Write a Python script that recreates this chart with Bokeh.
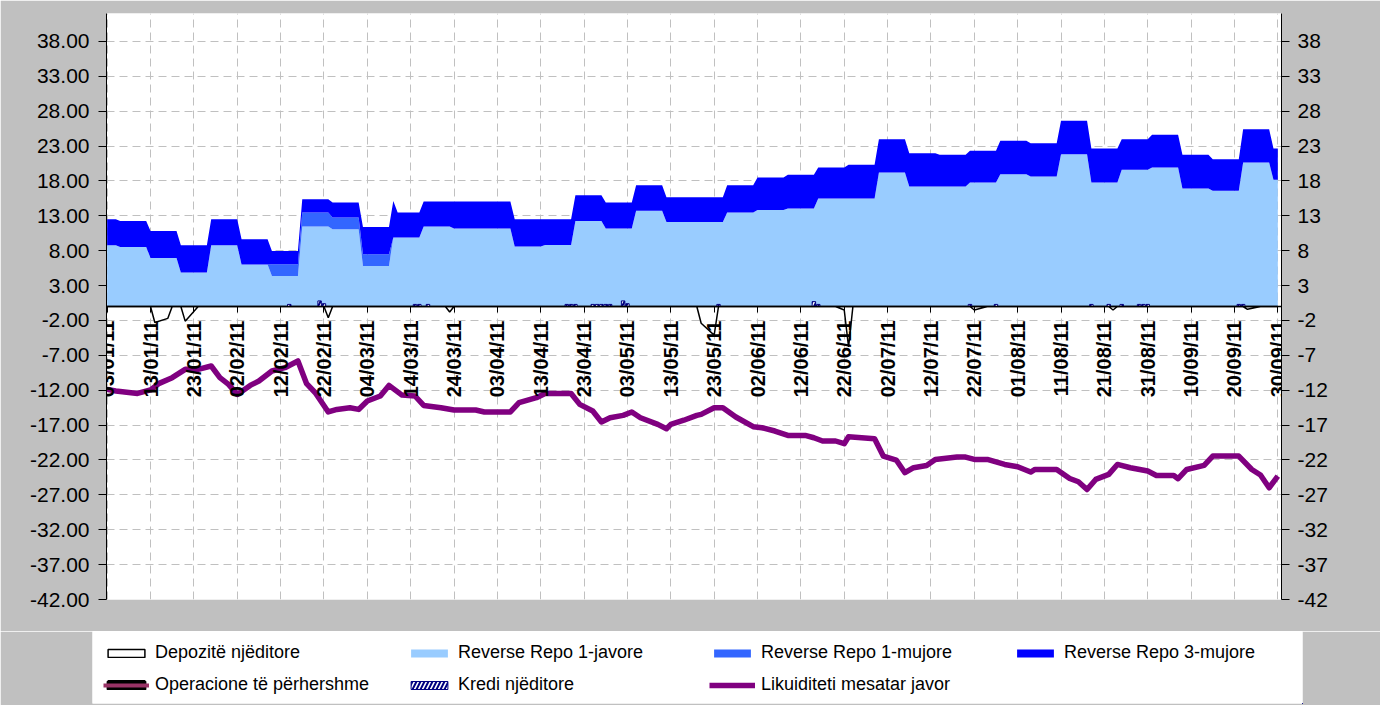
import pandas as pd
from math import pi
from bokeh.plotting import figure
from bokeh.layouts import column, row
from bokeh.models import (ColumnDataSource, FixedTicker, NumeralTickFormatter, LinearAxis,
                          Legend, LegendItem, Range1d)
from bokeh.embed import file_html
from bokeh.resources import INLINE

START = pd.Timestamp("2011-01-03")


def days(dates):
    return [(pd.Timestamp(d) - START).days for d in dates]


# ---------------- data ----------------
x_tick_labels = ["03/01/11", "13/01/11", "23/01/11", "02/02/11", "12/02/11", "22/02/11",
                 "04/03/11", "14/03/11", "24/03/11", "03/04/11", "13/04/11", "23/04/11",
                 "03/05/11", "13/05/11", "23/05/11", "02/06/11", "12/06/11", "22/06/11",
                 "02/07/11", "12/07/11", "22/07/11", "01/08/11", "11/08/11", "21/08/11",
                 "31/08/11", "10/09/11", "20/09/11", "30/09/11"]
y_ticks = [-42, -37, -32, -27, -22, -17, -12, -7, -2, 3, 8, 13, 18, 23, 28, 33, 38]

series_names = ["Depozitë njëditore", "Reverse Repo 1-javore", "Reverse Repo 1-mujore",
                "Reverse Repo 3-mujore", "Operacione të përhershme", "Kredi njëditore",
                "Likuiditeti mesatar javor"]

# Reverse repo operations (bn), weekly, points where the levels change
rr_dates = ["2011-01-03", "2011-01-05", "2011-01-06", "2011-01-12", "2011-01-13", "2011-01-19",
            "2011-01-20", "2011-01-26", "2011-01-27", "2011-02-02", "2011-02-03", "2011-02-09",
            "2011-02-10", "2011-02-16", "2011-02-17", "2011-02-23", "2011-02-24", "2011-03-02",
            "2011-03-03", "2011-03-09", "2011-03-10", "2011-03-11", "2011-03-16", "2011-03-17",
            "2011-03-23", "2011-03-24", "2011-04-06", "2011-04-07", "2011-04-13", "2011-04-14",
            "2011-04-20", "2011-04-21", "2011-04-27", "2011-04-28", "2011-05-04", "2011-05-05",
            "2011-05-11", "2011-05-12", "2011-05-25", "2011-05-26", "2011-06-01", "2011-06-02",
            "2011-06-08", "2011-06-09", "2011-06-15", "2011-06-16", "2011-06-22", "2011-06-23",
            "2011-06-29", "2011-06-30", "2011-07-06", "2011-07-07", "2011-07-13", "2011-07-14",
            "2011-07-20", "2011-07-21", "2011-07-27", "2011-07-28", "2011-08-03", "2011-08-04",
            "2011-08-10", "2011-08-11", "2011-08-17", "2011-08-18", "2011-08-24", "2011-08-25",
            "2011-08-31", "2011-09-01", "2011-09-07", "2011-09-08", "2011-09-14", "2011-09-15",
            "2011-09-21", "2011-09-22", "2011-09-28", "2011-09-29", "2011-09-30"]
rr_1w = [8.78, 8.78, 8.54, 8.54, 6.97, 6.97, 4.86, 4.86, 8.78, 8.78, 6.01, 6.01,
         4.38, 4.38, 11.46, 11.46, 11.07, 11.07, 5.82, 5.82, 9.88, 9.88, 9.88, 11.46,
         11.46, 11.17, 11.17, 8.59, 8.59, 8.83, 8.83, 12.27, 12.27, 11.17, 11.17, 13.71,
         13.71, 12.13, 12.13, 13.47, 13.47, 13.85, 13.85, 14.04, 14.04, 15.48, 15.48, 15.48,
         15.48, 19.21, 19.21, 17.20, 17.20, 17.20, 17.20, 17.77, 17.77, 18.96, 18.96, 18.63,
         18.63, 21.83, 21.83, 17.77, 17.77, 19.59, 19.59, 19.92, 19.92, 16.91, 16.91, 16.58,
         16.58, 20.64, 20.64, 18.16, 18.16]
rr_1m = [0, 0, 0, 0, 0, 0, 0, 0, 0, 0, 0, 0,
         1.68, 1.68, 2.01, 2.01, 1.68, 1.68, 1.67, 1.67, 0, 0, 0, 0,
         0, 0, 0, 0, 0, 0, 0, 0, 0, 0, 0, 0,
         0, 0, 0, 0, 0, 0, 0, 0, 0, 0, 0, 0,
         0, 0, 0, 0, 0, 0, 0, 0, 0, 0, 0, 0,
         0, 0, 0, 0, 0, 0, 0, 0, 0, 0, 0, 0,
         0, 0, 0, 0, 0]
rr_3m = [3.73, 3.73, 3.73, 3.73, 3.87, 3.87, 3.92, 3.92, 3.73, 3.73, 3.63, 3.63,
         1.91, 1.91, 1.91, 1.91, 2.15, 2.15, 3.92, 3.92, 5.26, 3.59, 3.59, 3.58,
         3.58, 3.87, 3.87, 3.92, 3.92, 3.68, 3.68, 3.68, 3.68, 3.73, 3.73, 3.67,
         3.67, 3.53, 3.53, 3.91, 3.91, 4.64, 4.64, 4.83, 4.83, 4.44, 4.44, 4.83,
         4.83, 4.78, 4.78, 4.78, 4.78, 4.54, 4.54, 4.55, 4.55, 4.79, 4.79, 4.78,
         4.78, 4.79, 4.79, 4.87, 4.87, 4.40, 4.40, 4.69, 4.69, 4.83, 4.83, 4.53,
         4.53, 4.78, 4.78, 4.49, 4.49]

# Overnight deposits (negative)
dep_dates = ["2011-01-03", "2011-01-13", "2011-01-14", "2011-01-17", "2011-01-18", "2011-01-20",
             "2011-01-21", "2011-01-24", "2011-02-22", "2011-02-23", "2011-02-24", "2011-03-22",
             "2011-03-23", "2011-03-24", "2011-05-19", "2011-05-20", "2011-05-23", "2011-05-24",
             "2011-06-20", "2011-06-22", "2011-06-23", "2011-06-24", "2011-07-21", "2011-07-22",
             "2011-07-25", "2011-08-22", "2011-08-23", "2011-08-24", "2011-09-22", "2011-09-23",
             "2011-09-26", "2011-09-30"]
dep_vals = [0, 0, -2.3, -1.7, 0, 0,
            -2.1, 0, 0, -1.6, 0, 0,
            -0.8, 0, 0, -2.4, -4.1, 0,
            0, -0.5, -5.8, 0, 0, -0.5,
            0, 0, -0.5, 0, 0, -0.4,
            0, 0]

# Standing facilities: nil over the period
op_dates = ["2011-01-03", "2011-09-30"]
op_vals = [0, 0]

# Overnight credit
kr_dates = ["2011-02-14", "2011-02-21", "2011-02-22", "2011-03-15", "2011-03-16", "2011-03-18",
            "2011-04-19", "2011-04-20", "2011-04-21", "2011-04-25", "2011-04-26", "2011-04-27",
            "2011-04-28", "2011-04-29", "2011-05-02", "2011-05-03", "2011-05-24", "2011-06-15",
            "2011-06-16", "2011-07-21", "2011-07-27", "2011-08-18", "2011-08-22", "2011-08-25",
            "2011-08-29", "2011-08-30", "2011-08-31", "2011-09-21", "2011-09-22"]
kr_vals = [0.3, 0.8, 0.4, 0.3, 0.3, 0.3,
           0.3, 0.3, 0.3, 0.3, 0.3, 0.3,
           0.3, 0.3, 0.8, 0.4, 0.3, 0.7,
           0.3, 0.3, 0.3, 0.3, 0.3, 0.3,
           0.3, 0.3, 0.3, 0.3, 0.3]

# Weekly average liquidity
liq_dates = ["2011-01-03", "2011-01-05", "2011-01-10", "2011-01-13", "2011-01-15", "2011-01-18",
             "2011-01-21", "2011-01-24", "2011-01-27", "2011-01-29", "2011-01-31", "2011-02-02",
             "2011-02-05", "2011-02-07", "2011-02-10", "2011-02-13", "2011-02-16", "2011-02-18",
             "2011-02-20", "2011-02-23", "2011-02-25", "2011-02-28", "2011-03-02", "2011-03-04",
             "2011-03-07", "2011-03-09", "2011-03-12", "2011-03-15", "2011-03-17", "2011-03-21",
             "2011-03-24", "2011-03-29", "2011-03-31", "2011-04-06", "2011-04-08", "2011-04-12",
             "2011-04-14", "2011-04-20", "2011-04-22", "2011-04-25", "2011-04-27", "2011-04-29",
             "2011-05-02", "2011-05-04", "2011-05-06", "2011-05-10", "2011-05-12", "2011-05-13",
             "2011-05-16", "2011-05-19", "2011-05-20", "2011-05-23", "2011-05-25", "2011-05-28",
             "2011-06-01", "2011-06-03", "2011-06-06", "2011-06-09", "2011-06-13", "2011-06-15",
             "2011-06-17", "2011-06-20", "2011-06-22", "2011-06-23", "2011-06-29", "2011-07-01",
             "2011-07-04", "2011-07-06", "2011-07-08", "2011-07-11", "2011-07-13", "2011-07-18",
             "2011-07-20", "2011-07-22", "2011-07-25", "2011-07-29", "2011-08-01", "2011-08-04",
             "2011-08-05", "2011-08-10", "2011-08-13", "2011-08-15", "2011-08-17", "2011-08-19",
             "2011-08-22", "2011-08-24", "2011-08-27", "2011-08-31", "2011-09-02", "2011-09-06",
             "2011-09-07", "2011-09-09", "2011-09-13", "2011-09-15", "2011-09-21", "2011-09-24",
             "2011-09-26", "2011-09-28", "2011-09-30"]
liq_vals = [-11.88, -12.11, -12.46, -11.96, -11.02, -10.20,
            -9.01, -9.01, -8.53, -10.20, -11.16, -12.60,
            -11.31, -10.68, -9.25, -8.77, -7.81, -11.06,
            -12.36, -15.12, -14.75, -14.51, -14.75, -13.55,
            -12.83, -11.31, -12.70, -12.83, -14.18, -14.51,
            -14.84, -14.84, -15.12, -15.12, -13.79, -13.07,
            -12.46, -12.46, -14.03, -14.98, -16.56, -15.94,
            -15.61, -15.12, -15.94, -16.90, -17.52, -16.90,
            -16.30, -15.61, -15.46, -14.51, -14.51, -15.84,
            -17.23, -17.38, -17.85, -18.48, -18.48, -18.81,
            -19.28, -19.28, -19.67, -18.67, -18.96, -21.44,
            -22.01, -23.83, -23.11, -22.78, -21.92, -21.58,
            -21.58, -21.92, -21.92, -22.64, -22.97, -23.73,
            -23.36, -23.36, -24.65, -25.12, -26.23, -24.79,
            -24.07, -22.64, -23.11, -23.59, -24.22, -24.22,
            -24.69, -23.36, -22.78, -21.44, -21.44, -23.36,
            -24.16, -25.98, -24.31]

# ---------------- styles ----------------
FONT = "Liberation Sans"
GRAY = "#C0C0C0"
RR_COLORS = ["#99CCFF", "#3366FF", "#0000FF"]
DEP_STYLE = dict(fill_color="white", line_color="black", line_width=1.5)
KR_STYLE = dict(fill_color="white", line_color="#000080", line_width=1,
                hatch_pattern="/", hatch_color="#000080", hatch_scale=8, hatch_weight=2)
OP_BOX = dict(fill_color="black", line_color="black", line_width=3)
OP_LINE = dict(line_color="#993366", line_width=4)
LIQ_STYLE = dict(line_color="#800080", line_width=5.5, line_join="round")

x_tick_pos = [(pd.to_datetime(s, format="%d/%m/%y") - START).days for s in x_tick_labels]
src_rr = ColumnDataSource(dict(x=days(rr_dates), rr1w=rr_1w, rr1m=rr_1m, rr3m=rr_3m))
dep_x = days(dep_dates)
dep_poly_x = dep_x + [dep_x[-1], dep_x[0]]
dep_poly_y = dep_vals + [0, 0]
op_x = days(op_dates)


def add_series(fig):
    """Draw every series on fig; returns the renderer groups in legend order."""
    rr = fig.varea_stack(["rr1w", "rr1m", "rr3m"], x="x", color=RR_COLORS, source=src_rr)
    r_dep = fig.patch(dep_poly_x, dep_poly_y, **DEP_STYLE)
    r_kr = fig.vbar(x=days(kr_dates), top=kr_vals, bottom=0, width=0.8, **KR_STYLE)
    r_liq = fig.line(days(liq_dates), liq_vals, **LIQ_STYLE)
    return [[r_dep], [rr[0]], [rr[1]], [rr[2]], None, [r_kr], [r_liq]]


# ---------------- main chart ----------------
p = figure(width=1380, height=631, x_range=Range1d(-0.15, 270.85), y_range=Range1d(-42, 42),
           output_backend="svg", toolbar_location=None,
           min_border_left=106, min_border_right=99, min_border_top=13, min_border_bottom=32,
           border_fill_color=GRAY, background_fill_color="white", outline_line_color=None)

for g in (p.xgrid, p.ygrid):
    g.grid_line_color = GRAY
    g.grid_line_dash = "8 5"
    g.grid_line_width = 1
p.xgrid.ticker = FixedTicker(ticks=x_tick_pos)
p.ygrid.ticker = FixedTicker(ticks=y_ticks)

xa = p.xaxis[0]
xa.ticker = FixedTicker(ticks=x_tick_pos)
xa.major_label_overrides = {t: l for t, l in zip(x_tick_pos, x_tick_labels)}
xa.major_label_orientation = pi / 2
xa.fixed_location = 0
xa.major_label_text_font = FONT
xa.major_label_text_font_style = "bold"
xa.major_label_text_font_size = "20px"
xa.major_label_text_color = "black"
xa.major_tick_out = 6
xa.major_tick_in = 0
xa.minor_tick_out = 0
xa.minor_tick_in = 0
xa.major_label_standoff = 8
xa.axis_line_color = "black"
xa.axis_line_width = 1.5

ya = p.yaxis[0]
ya.ticker = FixedTicker(ticks=y_ticks)
ya.formatter = NumeralTickFormatter(format="0.00")
ry = LinearAxis(ticker=FixedTicker(ticks=y_ticks), formatter=NumeralTickFormatter(format="0"))
p.add_layout(ry, "right")
for a in (ya, ry):
    a.major_label_text_font = FONT
    a.major_label_text_font_size = "21px"
    a.major_label_text_color = "black"
    a.major_tick_out = 8
    a.major_tick_in = 0
    a.minor_tick_out = 0
    a.minor_tick_in = 0
    a.axis_line_color = "black"
    a.major_tick_line_color = "black"
ya.major_label_standoff = 9
ry.major_label_standoff = 8

add_series(p)

# ---------------- legend strip ----------------
# Same series drawn on a strip whose data window lies outside the data, so that only
# the legend (with its swatches) shows.
lg = figure(width=1380, height=74, x_range=Range1d(-2000, -1990), y_range=Range1d(500, 510),
            output_backend="svg", toolbar_location=None,
            min_border_left=92, min_border_right=78, min_border_top=0, min_border_bottom=2,
            border_fill_color=GRAY, background_fill_color="white", outline_line_color=None)
lg.axis.visible = False
lg.grid.visible = False
groups = add_series(lg)
groups[4] = [lg.varea(x=op_x, y1=op_vals, y2=op_vals, fill_color="black"),
             lg.patch(op_x + op_x[::-1], op_vals + op_vals[::-1], **OP_BOX),
             lg.line(op_x, op_vals, **OP_LINE)]

legend = Legend(items=[LegendItem(label=n, renderers=r) for n, r in zip(series_names, groups)],
                location="top_left", orientation="horizontal", ncols=4,
                glyph_width=46, glyph_height=10, label_width=240, label_height=20,
                label_standoff=6, spacing=11, padding=17, margin=11,
                background_fill_color="white", background_fill_alpha=1.0, border_line_color=None,
                label_text_font=FONT, label_text_font_size="18px", label_text_color="black")
lg.add_layout(legend)

open("out.html", "w").write(file_html(column(p, row(lg)), INLINE))
